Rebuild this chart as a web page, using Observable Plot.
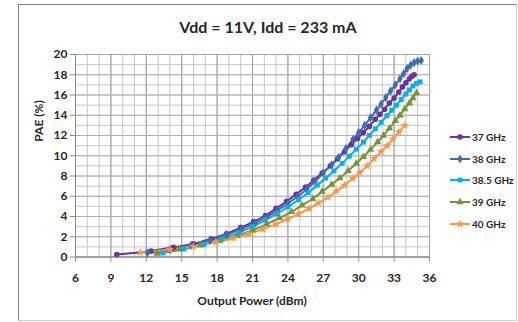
<!DOCTYPE html>
<html><head><meta charset="utf-8">
<script src="https://cdn.jsdelivr.net/npm/d3@7"></script>
<script src="https://cdn.jsdelivr.net/npm/@observablehq/plot@0.6"></script>
<style>
html,body{margin:0;padding:0;background:#fff;}
#wrap{position:relative;width:518px;height:322px;overflow:hidden;font-family:Lato,"Open Sans",sans-serif;color:#262626;}
#box{position:absolute;left:18px;top:4px;width:499px;height:317px;border:1px solid #d0d0d0;border-top-color:#7f7f7f;border-left-color:#7f7f7f;box-sizing:border-box;}
#title{position:absolute;left:18px;width:500px;top:17px;line-height:20px;text-align:center;font-weight:bold;font-size:16px;}
#chart{position:absolute;left:0;top:40px;}
#ylab{position:absolute;left:38px;top:121px;transform:translate(-50%,-50%) rotate(-90deg);font-weight:bold;font-size:12px;white-space:nowrap;}
#xlab{position:absolute;left:75px;width:354px;top:293px;line-height:16px;text-align:center;font-weight:bold;font-size:12px;}
#legend{position:absolute;left:449px;top:126px;}
.row{display:flex;align-items:center;height:21.75px;font-weight:bold;font-size:10px;}
.row svg{margin-right:1px;}
</style>
</head><body>
<div id="wrap">
  <div id="box"></div>
  <div id="title">Vdd = 11V, Idd = 233 mA</div>
  <div id="chart"></div>
  <div id="ylab">PAE (%)</div>
  <div id="xlab">Output Power (dBm)</div>
  <div id="legend"></div>
</div>
<script>
const seriesNames = ["37 GHz", "38 GHz", "38.5 GHz", "39 GHz", "40 GHz"];
const seriesColors = ["#7030A0", "#3F6DAA", "#00B0F0", "#77933C", "#F79646"];
const seriesSymbols = ["circle", "diamond", "square", "triangle", "star"];

const pout37 = [9.5, 12.4, 14.3, 16.0, 17.5, 18.8, 20.0, 21.1, 22.1, 23.0, 23.9, 24.7, 25.5, 26.2, 26.9, 27.6, 28.2, 28.8, 29.4, 29.9, 30.4, 30.9, 31.4, 31.8, 32.2, 32.6, 33.0, 33.4, 33.7, 34.0, 34.3, 34.5, 34.7];
const pae37  = [0.25, 0.6, 0.95, 1.3, 1.8, 2.3, 2.9, 3.5, 4.1, 4.8, 5.5, 6.2, 6.9, 7.6, 8.3, 9.0, 9.7, 10.4, 11.1, 11.7, 12.3, 12.9, 13.6, 14.1, 14.6, 15.2, 15.7, 16.3, 16.8, 17.2, 17.6, 17.85, 18.0];

const pout38 = [12.1, 14.0, 15.8, 17.4, 18.8, 20.1, 21.2, 22.2, 23.1, 24.0, 24.8, 25.6, 26.3, 27.0, 27.7, 28.3, 28.9, 29.5, 30.0, 30.5, 31.0, 31.5, 31.9, 32.3, 32.7, 33.1, 33.5, 33.8, 34.1, 34.4, 34.7, 35.0, 35.3];
const pae38  = [0.4, 0.75, 1.15, 1.65, 2.2, 2.8, 3.35, 3.95, 4.6, 5.3, 5.95, 6.7, 7.45, 8.3, 9.1, 9.85, 10.7, 11.6, 12.3, 13.0, 13.75, 14.5, 15.1, 15.75, 16.4, 17.0, 17.6, 18.1, 18.6, 18.95, 19.2, 19.35, 19.4];

const pout385 = [13.4, 15.2, 16.9, 18.4, 19.8, 21.0, 22.1, 23.1, 24.0, 24.9, 25.7, 26.5, 27.2, 27.9, 28.6, 29.2, 29.8, 30.4, 30.9, 31.4, 31.9, 32.4, 32.8, 33.2, 33.6, 34.0, 34.3, 34.6, 34.9, 35.2];
const pae385  = [0.4, 0.8, 1.25, 1.8, 2.4, 3.0, 3.65, 4.3, 4.95, 5.65, 6.35, 7.1, 7.8, 8.5, 9.25, 9.95, 10.65, 11.35, 12.0, 12.65, 13.3, 13.95, 14.5, 15.0, 15.55, 16.1, 16.5, 16.9, 17.15, 17.3];

const pout39 = [12.9, 14.8, 16.6, 18.2, 19.7, 21.0, 22.2, 23.3, 24.3, 25.2, 26.1, 26.9, 27.7, 28.4, 29.1, 29.8, 30.4, 31.0, 31.6, 32.1, 32.6, 33.1, 33.5, 33.9, 34.3, 34.6, 34.9];
const pae39  = [0.35, 0.75, 1.15, 1.6, 2.1, 2.65, 3.25, 3.85, 4.45, 5.1, 5.75, 6.45, 7.15, 7.8, 8.5, 9.25, 9.9, 10.6, 11.35, 12.0, 12.7, 13.45, 14.0, 14.6, 15.2, 15.7, 16.2];

const pout40 = [11.5, 14.0, 16.0, 17.9, 19.4, 20.7, 21.9, 23.0, 24.0, 24.9, 25.8, 26.6, 27.4, 28.1, 28.8, 29.5, 30.1, 30.7, 31.3, 31.9, 32.4, 32.9, 33.4, 33.9];
const pae40  = [0.45, 0.75, 1.05, 1.45, 1.85, 2.3, 2.75, 3.25, 3.75, 4.25, 4.8, 5.35, 5.9, 6.5, 7.1, 7.75, 8.35, 9.0, 9.7, 10.4, 11.0, 11.65, 12.35, 13.0];

const xTicks = [6, 9, 12, 15, 18, 21, 24, 27, 30, 33, 36];
const yTicks = [0, 2, 4, 6, 8, 10, 12, 14, 16, 18, 20];
const xMinor = d3.range(6, 37, 1);
const yMinor = d3.range(0, 21, 1);

const xs = [pout37, pout38, pout385, pout39, pout40];
const ys = [pae37, pae38, pae385, pae39, pae40];
const rows = seriesNames.flatMap((s, i) => xs[i].map((x, j) => ({series: s, x, y: ys[i][j]})));

const chart = Plot.plot({
  width: 440,
  height: 282,
  marginLeft: 75,
  marginRight: 11,
  marginTop: 14,
  marginBottom: 65.5,
  style: {fontFamily: "Lato, 'Open Sans', sans-serif", fontSize: "12px", fontWeight: "bold", color: "#262626", background: "transparent"},
  x: {domain: [6, 36], ticks: xTicks, label: null},
  y: {domain: [0, 20], ticks: yTicks, label: null},
  color: {domain: seriesNames, range: seriesColors},
  symbol: {domain: seriesNames, range: seriesSymbols},
  marks: [
    Plot.ruleX(xMinor, {stroke: "#c6c6c6", strokeWidth: 1}),
    Plot.ruleY(yMinor, {stroke: "#c6c6c6", strokeWidth: 1}),
    Plot.ruleX(xTicks, {stroke: "#9e9e9e", strokeWidth: 1}),
    Plot.ruleY(yTicks, {stroke: "#b0b0b0", strokeWidth: 1}),
    Plot.frame({stroke: "#a6a6a6"}),
    Plot.axisX({ticks: xTicks, tickSize: 5, tickPadding: 11, stroke: "#888", label: null}),
    Plot.axisY({ticks: yTicks, tickSize: 5, tickPadding: 3, stroke: "#888", label: null}),
    Plot.ruleY([0], {stroke: "#888"}),
    Plot.ruleX([6], {stroke: "#888"}),
    Plot.line(rows, {x: "x", y: "y", z: "series", stroke: "series", strokeWidth: 2, curve: "monotone-x"}),
    Plot.dot(rows, {x: "x", y: "y", fill: "series", symbol: "series", r: 2.8, stroke: "none"})
  ]
});
document.getElementById("chart").appendChild(chart);

const legend = d3.select("#legend");
seriesNames.forEach((s, i) => {
  const row = legend.append("div").attr("class", "row");
  const svg = row.append("svg").attr("width", 22).attr("height", 10);
  svg.append("line").attr("x1", 1).attr("x2", 21).attr("y1", 5).attr("y2", 5)
    .attr("stroke", seriesColors[i]).attr("stroke-width", 2);
  const sym = {circle: d3.symbolCircle, diamond: d3.symbolDiamond, square: d3.symbolSquare, triangle: d3.symbolTriangle, star: d3.symbolStar}[seriesSymbols[i]];
  svg.append("path").attr("transform", "translate(11,5)").attr("d", d3.symbol(sym, 24)()).attr("fill", seriesColors[i]);
  row.append("span").text(s);
});
</script>
</body></html>
